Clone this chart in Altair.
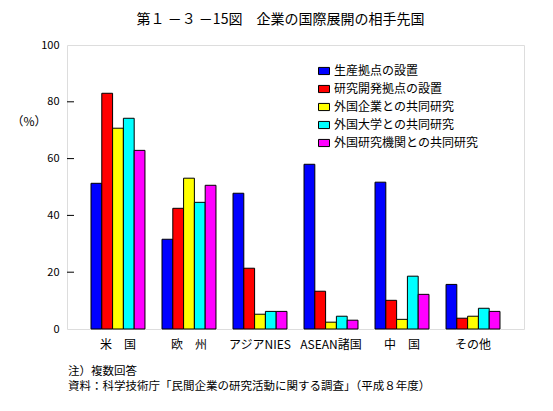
import altair as alt
import pandas as pd

regions = ["米　国", "欧　州", "アジアNIES", "ASEAN諸国", "中　国", "その他"]
series = ["生産拠点の設置", "研究開発拠点の設置", "外国企業との共同研究", "外国大学との共同研究", "外国研究機関との共同研究"]
colors = ["#0000ff", "#ff0000", "#ffff00", "#00ffff", "#ff00ff"]
values = {
    "生産拠点の設置":         [51.3, 31.6, 47.8, 58.0, 51.7, 15.7],
    "研究開発拠点の設置":     [83.0, 42.5, 21.4, 13.3, 10.1, 3.8],
    "外国企業との共同研究":   [70.7, 53.1, 5.2, 2.4, 3.4, 4.5],
    "外国大学との共同研究":   [74.2, 44.6, 6.2, 4.5, 18.6, 7.3],
    "外国研究機関との共同研究": [62.9, 50.6, 6.2, 3.1, 12.2, 6.2],
}
y_ticks = [0, 20, 40, 60, 80, 100]
inner_ticks = [20, 40, 60, 80]
title_text = "第１ －３ －15図　企業の国際展開の相手先国"
note1 = "注）複数回答"
note2 = "資料：科学技術庁「民間企業の研究活動に関する調査」（平成８年度）"
unit_label = "（%）"

rows = []
for s in series:
    for r, v in zip(regions, values[s]):
        rows.append({"region": r, "series": s, "value": v})
df = pd.DataFrame(rows)

FONT = "Noto Sans CJK JP"
W, H = 457, 284

yscale = alt.Scale(domain=[0, 100], nice=False)

bars = alt.Chart(df).mark_bar(stroke="black", strokeWidth=1).encode(
    x=alt.X("region:N", sort=regions,
            scale=alt.Scale(paddingInner=0.24, paddingOuter=0.338),
            axis=alt.Axis(title=None, labelAngle=0, ticks=False, domain=False,
                          labelFont=FONT, labelFontSize=12, labelColor="black",
                          labelPadding=10)),
    xOffset=alt.XOffset("series:N", sort=series, scale=alt.Scale(paddingInner=0, paddingOuter=0)),
    y=alt.Y("value:Q", scale=yscale,
            axis=alt.Axis(title=None, values=y_ticks, ticks=False, domain=False, grid=False,
                          labelFont=FONT, labelFontSize=11, labelColor="black",
                          labelPadding=8)),
    color=alt.Color("series:N", sort=series,
                    scale=alt.Scale(domain=series, range=colors),
                    legend=alt.Legend(title=None, orient="none", legendX=251, legendY=20,
                                      symbolType="M-1,-0.65H1V0.65H-1Z", symbolSize=121,
                                      symbolStrokeColor="black", symbolStrokeWidth=1,
                                      symbolOpacity=1,
                                      labelFont=FONT, labelFontSize=12, labelColor="black",
                                      labelOffset=4, rowPadding=6, padding=0)),
)

ticks = alt.Chart(pd.DataFrame({"v": inner_ticks})).mark_rule(color="black", strokeWidth=1).encode(
    y=alt.Y("v:Q", scale=yscale),
    x=alt.value(0), x2=alt.value(7),
)

unit = alt.Chart(pd.DataFrame({"t": [unit_label]})).mark_text(
    font=FONT, fontSize=12, color="black", align="center", baseline="middle"
).encode(text="t:N", x=alt.value(-38), y=alt.value(77))

notes = alt.Chart(pd.DataFrame({"t": [note1, note2], "yy": [327, 342]})).mark_text(
    font=FONT, fontSize=11.5, color="black", align="left", baseline="middle"
).encode(text="t:N", x=alt.value(1), y=alt.Y("yy:Q", scale=None, axis=None))

chart = alt.layer(bars, ticks, unit, notes).properties(
    width=W, height=H,
    title=alt.TitleParams(title_text, font=FONT, fontSize=14, fontWeight="normal",
                          color="black", anchor="middle", dx=-15, offset=12),
    autosize=alt.AutoSizeParams(type="none"),
    padding={"left": 59, "top": 37, "right": 21, "bottom": 74},
).configure_view(
    fill="#cbf5a2", stroke="black", strokeWidth=1.5
).configure(background="white")

chart.save("out.html", embed_options={"renderer": "svg", "actions": False})
